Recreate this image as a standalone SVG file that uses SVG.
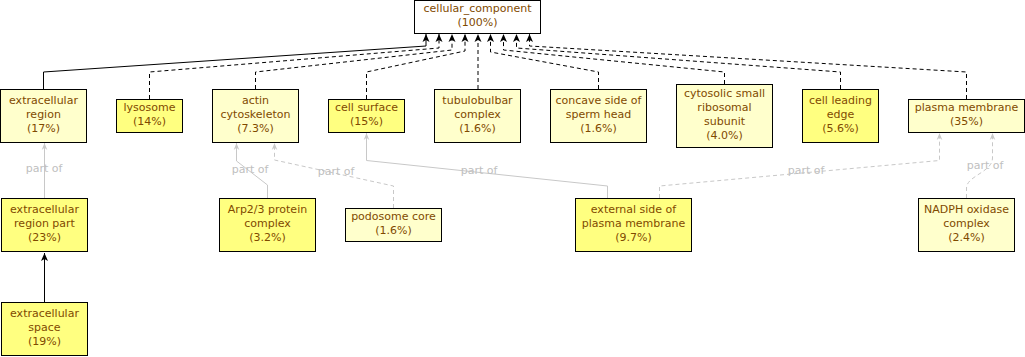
<svg xmlns="http://www.w3.org/2000/svg" width="1025" height="357" viewBox="0 0 1025 357">
  <style>
    .box { stroke: #000000; stroke-width: 1; }
    .pale { fill: #ffffcc; }
    .bright { fill: #ffff80; }
    .root { fill: #ffffff; }
    .lbl { font-family: "DejaVu Sans", "Liberation Sans", sans-serif; font-size: 11px; fill: #7f4a00; text-anchor: middle; }
    .isa { fill: none; stroke: #000000; stroke-width: 1; }
    .isa-d { fill: none; stroke: #000000; stroke-width: 1; stroke-dasharray: 4 3; }
    .part { fill: none; stroke: #c8c8c8; stroke-width: 1; }
    .part-d { fill: none; stroke: #c8c8c8; stroke-width: 1; stroke-dasharray: 4 3; }
    .elbl { font-family: "DejaVu Sans", "Liberation Sans", sans-serif; font-size: 11px; fill: #c0c0c0; text-anchor: middle; }
  </style>
  <defs>
    <marker id="arrowBlack" viewBox="0 0 8 8" refX="8" refY="4" markerWidth="8" markerHeight="8" markerUnits="userSpaceOnUse" orient="auto">
      <path d="M8,4 L0,0.5 L2,4 L0,7.5 Z" fill="#000000" stroke="none"/>
    </marker>
    <marker id="arrowGrey" viewBox="0 0 8 8" refX="8" refY="4" markerWidth="7" markerHeight="7" markerUnits="userSpaceOnUse" orient="auto">
      <path d="M8,4 L0,0.8 L2.5,4 L0,7.2 Z" fill="#c8c8c8" stroke="none"/>
    </marker>
  </defs>

  <!-- connectors -->
  <g id="edges">
    <!-- is_a edges to the root term -->
    <path class="isa" d="M43.5,89 V72 L426,46 V34" marker-end="url(#arrowBlack)"/>
    <path class="isa-d" d="M149.5,99 V72 L439,48 V34" marker-end="url(#arrowBlack)"/>
    <path class="isa-d" d="M255.5,89 V72 L452,50 V34" marker-end="url(#arrowBlack)"/>
    <path class="isa-d" d="M366.5,99 V72 L465,51 V34" marker-end="url(#arrowBlack)"/>
    <path class="isa-d" d="M478,89 V34" marker-end="url(#arrowBlack)"/>
    <path class="isa-d" d="M598.5,89 V72 L490.5,52 V34" marker-end="url(#arrowBlack)"/>
    <path class="isa-d" d="M724.5,84 V72 L503.5,50 V34" marker-end="url(#arrowBlack)"/>
    <path class="isa-d" d="M840.5,89 V72 L516.5,48 V34" marker-end="url(#arrowBlack)"/>
    <path class="isa-d" d="M966.5,99 V72 L529.5,46 V34" marker-end="url(#arrowBlack)"/>
    <path class="isa" d="M44.5,302 V253" marker-end="url(#arrowBlack)"/>

    <!-- part_of edges -->
    <path class="part" d="M44.5,198 V143" marker-end="url(#arrowGrey)"/>
    <text class="elbl" x="44" y="172">part of</text>
    <path class="part" d="M267.5,198 V185 L236.5,161 V143" marker-end="url(#arrowGrey)"/>
    <text class="elbl" x="250" y="173">part of</text>
    <path class="part-d" d="M393.5,208 V186 L274.5,160 V143" marker-end="url(#arrowGrey)"/>
    <text class="elbl" x="336" y="175">part of</text>
    <path class="part" d="M607.5,198 V186 L366.5,160.5 V133" marker-end="url(#arrowGrey)"/>
    <text class="elbl" x="479" y="174">part of</text>
    <path class="part-d" d="M659.5,198 V186 L939.5,160.5 V133" marker-end="url(#arrowGrey)"/>
    <text class="elbl" x="806" y="174">part of</text>
    <path class="part-d" d="M966.5,198 V188 C966.5,176 992.5,172 992.5,158 V133" marker-end="url(#arrowGrey)"/>
    <text class="elbl" x="985" y="169">part of</text>
  </g>

  <!-- nodes -->
  <g id="cellular_component">
    <rect class="box root" x="414.5" y="0.5" width="126" height="33"/>
    <text class="lbl" x="477.5" y="12">cellular_component</text>
    <text class="lbl" x="477.5" y="26">(100%)</text>
  </g>
  <g id="extracellular_region">
    <rect class="box pale" x="0.5" y="89.5" width="86" height="53"/>
    <text class="lbl" x="43.5" y="104">extracellular</text>
    <text class="lbl" x="43.5" y="118">region</text>
    <text class="lbl" x="43.5" y="132">(17%)</text>
  </g>
  <g id="lysosome">
    <rect class="box bright" x="116.5" y="99.5" width="66" height="33"/>
    <text class="lbl" x="149.5" y="111">lysosome</text>
    <text class="lbl" x="149.5" y="125">(14%)</text>
  </g>
  <g id="actin_cytoskeleton">
    <rect class="box pale" x="212.5" y="89.5" width="86" height="53"/>
    <text class="lbl" x="255.5" y="104">actin</text>
    <text class="lbl" x="255.5" y="118">cytoskeleton</text>
    <text class="lbl" x="255.5" y="132">(7.3%)</text>
  </g>
  <g id="cell_surface">
    <rect class="box bright" x="328.5" y="99.5" width="76" height="33"/>
    <text class="lbl" x="366.5" y="111">cell surface</text>
    <text class="lbl" x="366.5" y="125">(15%)</text>
  </g>
  <g id="tubulobulbar_complex">
    <rect class="box pale" x="434.5" y="89.5" width="86" height="53"/>
    <text class="lbl" x="477.5" y="104">tubulobulbar</text>
    <text class="lbl" x="477.5" y="118">complex</text>
    <text class="lbl" x="477.5" y="132">(1.6%)</text>
  </g>
  <g id="concave_side_of_sperm_head">
    <rect class="box pale" x="550.5" y="89.5" width="96" height="53"/>
    <text class="lbl" x="598.5" y="104">concave side of</text>
    <text class="lbl" x="598.5" y="118">sperm head</text>
    <text class="lbl" x="598.5" y="132">(1.6%)</text>
  </g>
  <g id="cytosolic_small_ribosomal_subunit">
    <rect class="box pale" x="676.5" y="84.5" width="96" height="63"/>
    <text class="lbl" x="724.5" y="97">cytosolic small</text>
    <text class="lbl" x="724.5" y="111">ribosomal</text>
    <text class="lbl" x="724.5" y="125">subunit</text>
    <text class="lbl" x="724.5" y="139">(4.0%)</text>
  </g>
  <g id="cell_leading_edge">
    <rect class="box bright" x="802.5" y="89.5" width="76" height="53"/>
    <text class="lbl" x="840.5" y="104">cell leading</text>
    <text class="lbl" x="840.5" y="118">edge</text>
    <text class="lbl" x="840.5" y="132">(5.6%)</text>
  </g>
  <g id="plasma_membrane">
    <rect class="box pale" x="908.5" y="99.5" width="116" height="33"/>
    <text class="lbl" x="966.5" y="111">plasma membrane</text>
    <text class="lbl" x="966.5" y="125">(35%)</text>
  </g>
  <g id="extracellular_region_part">
    <rect class="box bright" x="1.5" y="198.5" width="86" height="53"/>
    <text class="lbl" x="44.5" y="213">extracellular</text>
    <text class="lbl" x="44.5" y="227">region part</text>
    <text class="lbl" x="44.5" y="241">(23%)</text>
  </g>
  <g id="extracellular_space">
    <rect class="box bright" x="1.5" y="302.5" width="86" height="53"/>
    <text class="lbl" x="44.5" y="317">extracellular</text>
    <text class="lbl" x="44.5" y="331">space</text>
    <text class="lbl" x="44.5" y="345">(19%)</text>
  </g>
  <g id="arp23_protein_complex">
    <rect class="box bright" x="219.5" y="198.5" width="96" height="53"/>
    <text class="lbl" x="267.5" y="213">Arp2/3 protein</text>
    <text class="lbl" x="267.5" y="227">complex</text>
    <text class="lbl" x="267.5" y="241">(3.2%)</text>
  </g>
  <g id="podosome_core">
    <rect class="box pale" x="345.5" y="208.5" width="96" height="33"/>
    <text class="lbl" x="393.5" y="220">podosome core</text>
    <text class="lbl" x="393.5" y="234">(1.6%)</text>
  </g>
  <g id="external_side_of_plasma_membrane">
    <rect class="box bright" x="575.5" y="198.5" width="116" height="53"/>
    <text class="lbl" x="633.5" y="213">external side of</text>
    <text class="lbl" x="633.5" y="227">plasma membrane</text>
    <text class="lbl" x="633.5" y="241">(9.7%)</text>
  </g>
  <g id="nadph_oxidase_complex">
    <rect class="box pale" x="918.5" y="198.5" width="96" height="53"/>
    <text class="lbl" x="966.5" y="213">NADPH oxidase</text>
    <text class="lbl" x="966.5" y="227">complex</text>
    <text class="lbl" x="966.5" y="241">(2.4%)</text>
  </g>
</svg>
